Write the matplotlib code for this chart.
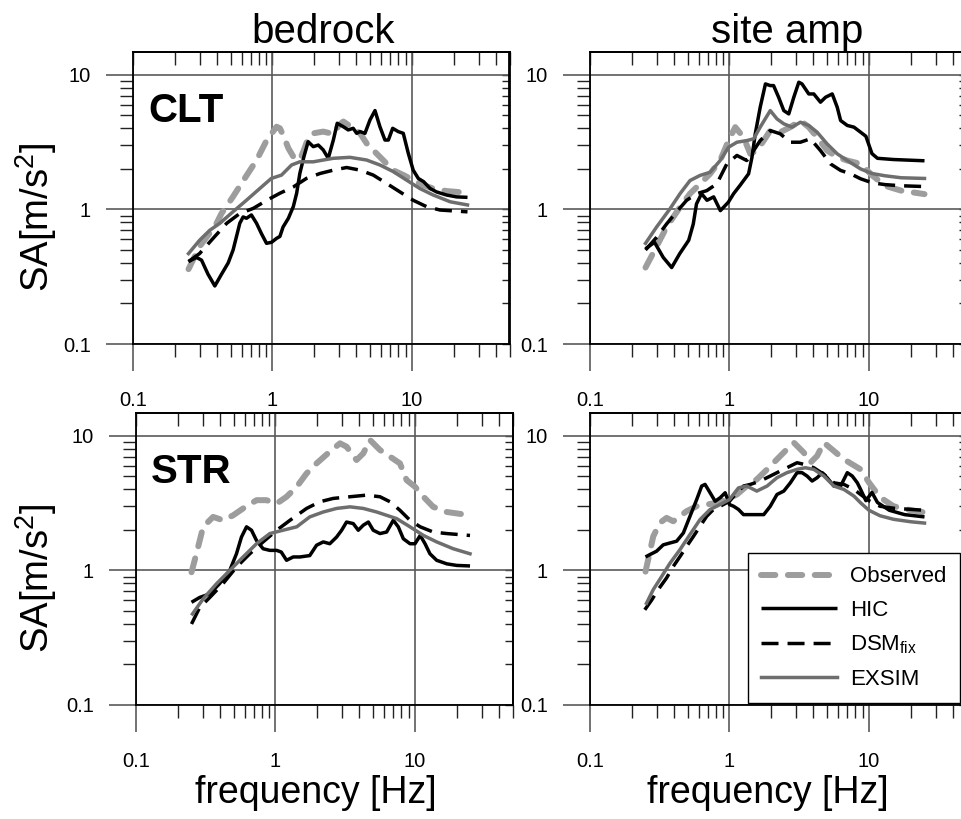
import matplotlib
matplotlib.use('Agg')
import matplotlib.pyplot as plt
from matplotlib.ticker import FixedLocator, LogLocator, NullFormatter, FixedFormatter

plt.rcParams['font.family'] = ['Liberation Sans', 'DejaVu Sans']
plt.rcParams['mathtext.fontset'] = 'custom'
plt.rcParams['mathtext.rm'] = 'Liberation Sans'
plt.rcParams['mathtext.it'] = 'Liberation Sans:italic'
plt.rcParams['mathtext.bf'] = 'Liberation Sans:bold'

# ---------------- data ----------------
series_names = ['Observed', 'HIC', r'DSM$_{\mathrm{fix}}$', 'EXSIM']
col_titles = ['bedrock', 'site amp']
row_labels = ['CLT', 'STR']
tick_vals = [0.1, 1, 10]
tick_labels = ['0.1', '1', '10']

# CLT bedrock
clt_bed_obs_f = [0.25, 0.30, 0.39, 0.43, 0.52, 0.62, 0.77, 0.91, 1.07, 1.13, 1.19, 1.30, 1.41, 1.57, 1.68, 1.80, 1.96, 2.31, 2.73, 3.0, 3.22, 3.79, 4.24, 4.73, 5.4, 6.2, 7.3, 8.7, 10.2, 12.0, 14.2, 17.7, 25.0]
clt_bed_obs_sa = [0.36, 0.53, 0.76, 0.93, 1.24, 1.65, 2.33, 3.28, 4.12, 4.01, 3.58, 2.85, 2.47, 2.33, 2.77, 3.38, 3.68, 3.79, 3.64, 4.24, 4.50, 4.01, 3.68, 3.10, 2.69, 2.33, 1.96, 1.80, 1.65, 1.52, 1.43, 1.37, 1.33]
clt_bed_hic_f = [0.25, 0.285, 0.31, 0.345, 0.386, 0.431, 0.481, 0.522, 0.552, 0.583, 0.616, 0.651, 0.706, 0.768, 0.834, 0.906, 0.984, 1.07, 1.13, 1.19, 1.30, 1.41, 1.49, 1.57, 1.68, 1.80, 1.96, 2.13, 2.31, 2.51, 2.73, 2.91, 3.22, 3.49, 3.79, 4.01, 4.24, 4.60, 5.00, 5.43, 5.89, 6.40, 6.77, 7.27, 7.97, 8.66, 9.41, 10.2, 11.1, 12.1, 13.5, 15.0, 17.7, 20.9, 25.0]
clt_bed_hic_sa = [0.41, 0.44, 0.42, 0.33, 0.27, 0.33, 0.40, 0.50, 0.63, 0.79, 0.88, 0.86, 0.91, 0.79, 0.66, 0.56, 0.57, 0.61, 0.63, 0.74, 0.86, 1.05, 1.32, 1.85, 2.47, 3.19, 2.93, 3.01, 2.77, 2.40, 3.28, 4.37, 4.12, 3.90, 4.01, 3.68, 3.79, 3.68, 4.63, 5.43, 4.12, 3.28, 3.28, 4.01, 3.79, 3.68, 2.61, 1.96, 1.70, 1.61, 1.43, 1.35, 1.28, 1.24, 1.23]
clt_bed_dsm_f = [0.25, 0.30, 0.375, 0.47, 0.58, 0.73, 0.91, 1.13, 1.41, 1.75, 2.19, 2.73, 3.40, 4.24, 5.28, 6.58, 8.2, 10.2, 12.7, 15.9, 25.0]
clt_bed_dsm_sa = [0.41, 0.47, 0.61, 0.79, 0.93, 1.02, 1.17, 1.32, 1.47, 1.70, 1.85, 1.96, 2.05, 1.96, 1.80, 1.56, 1.35, 1.17, 1.05, 0.99, 0.96]
clt_bed_exs_f = [0.25, 0.30, 0.355, 0.42, 0.52, 0.65, 0.81, 0.98, 1.16, 1.37, 1.57, 1.96, 2.31, 2.73, 3.59, 4.73, 5.89, 7.35, 9.16, 11.4, 14.2, 18.8, 25.0]
clt_bed_exs_sa = [0.47, 0.59, 0.70, 0.79, 0.96, 1.17, 1.43, 1.70, 1.80, 2.14, 2.26, 2.26, 2.33, 2.40, 2.44, 2.33, 2.14, 1.91, 1.65, 1.43, 1.28, 1.14, 1.08]

# CLT site amp
clt_amp_obs_f = [0.25, 0.30, 0.354, 0.442, 0.521, 0.615, 0.726, 0.857, 0.984, 1.10, 1.26, 1.41, 1.57, 1.76, 1.96, 2.31, 2.73, 3.22, 3.70, 4.25, 5.01, 5.92, 6.99, 8.71, 10.5, 13.0, 17.0, 25.0]
clt_amp_obs_sa = [0.37, 0.53, 0.74, 1.04, 1.31, 1.55, 1.84, 2.31, 3.25, 4.09, 3.44, 2.59, 2.74, 3.25, 3.86, 3.75, 4.09, 4.58, 4.09, 3.44, 2.74, 2.45, 2.31, 2.18, 1.80, 1.50, 1.38, 1.30]
clt_amp_hic_f = [0.25, 0.29, 0.335, 0.385, 0.44, 0.51, 0.55, 0.58, 0.63, 0.69, 0.77, 0.86, 0.98, 1.07, 1.19, 1.37, 1.45, 1.53, 1.66, 1.81, 1.96, 2.07, 2.25, 2.45, 2.66, 2.89, 3.14, 3.31, 3.70, 4.02, 4.49, 4.88, 5.45, 5.92, 6.26, 6.99, 7.80, 8.71, 9.5, 10.5, 11.5, 15.0, 25.0]
clt_amp_hic_sa = [0.51, 0.57, 0.44, 0.37, 0.47, 0.59, 0.78, 1.10, 1.31, 1.17, 1.24, 0.98, 1.13, 1.31, 1.51, 1.84, 2.45, 3.65, 5.75, 8.57, 8.33, 8.33, 6.82, 5.43, 5.13, 6.82, 8.82, 8.57, 7.22, 7.22, 6.27, 6.82, 7.22, 5.75, 4.58, 4.21, 4.09, 3.75, 3.50, 2.60, 2.40, 2.35, 2.30]
clt_amp_dsm_f = [0.25, 0.30, 0.354, 0.418, 0.493, 0.582, 0.687, 0.811, 0.957, 1.13, 1.33, 1.49, 1.66, 1.96, 2.31, 2.73, 3.22, 3.80, 4.49, 5.30, 6.26, 7.38, 8.71, 10.5, 13.0, 17.0, 25.0]
clt_amp_dsm_sa = [0.50, 0.62, 0.78, 0.96, 1.17, 1.31, 1.38, 1.55, 2.18, 2.52, 2.31, 2.74, 3.25, 3.86, 3.65, 3.16, 3.16, 3.35, 2.74, 2.18, 1.95, 1.84, 1.69, 1.58, 1.53, 1.50, 1.48]
clt_amp_exs_f = [0.25, 0.30, 0.374, 0.442, 0.521, 0.615, 0.726, 0.857, 0.984, 1.13, 1.33, 1.49, 1.66, 1.96, 2.19, 2.45, 2.81, 3.22, 3.70, 4.25, 5.01, 5.92, 6.99, 8.71, 10.5, 13.0, 17.0, 25.0]
clt_amp_exs_sa = [0.56, 0.74, 1.01, 1.31, 1.64, 1.79, 1.89, 2.31, 2.90, 3.16, 3.25, 3.35, 4.09, 5.43, 4.71, 4.33, 4.09, 4.45, 4.21, 3.75, 3.07, 2.59, 2.31, 2.00, 1.85, 1.78, 1.72, 1.70]

# STR bedrock
str_bed_obs_f = [0.25, 0.271, 0.303, 0.357, 0.421, 0.497, 0.586, 0.731, 0.861, 1.02, 1.20, 1.42, 1.67, 1.97, 2.45, 2.90, 3.23, 3.81, 4.26, 4.75, 5.61, 6.62, 7.80, 8.71, 10.0, 11.5, 13.5, 16.9, 24.8]
str_bed_obs_sa = [0.97, 1.33, 2.11, 2.50, 2.36, 2.57, 2.89, 3.33, 3.33, 3.14, 3.53, 4.19, 5.26, 6.25, 7.64, 8.81, 8.32, 6.62, 7.42, 9.34, 7.86, 7.01, 6.25, 4.69, 4.19, 3.53, 2.97, 2.72, 2.57]
str_bed_hic_f = [0.25, 0.286, 0.338, 0.398, 0.470, 0.525, 0.570, 0.620, 0.673, 0.731, 0.815, 0.911, 1.02, 1.10, 1.20, 1.34, 1.50, 1.76, 1.97, 2.20, 2.45, 2.74, 2.98, 3.23, 3.61, 3.92, 4.26, 4.63, 5.02, 5.61, 6.26, 6.99, 7.59, 8.25, 9.21, 10.0, 10.9, 11.8, 12.8, 14.3, 16.9, 19.9, 24.8]
str_bed_hic_sa = [0.58, 0.63, 0.67, 0.80, 1.00, 1.33, 1.77, 2.11, 1.99, 1.67, 1.45, 1.41, 1.41, 1.37, 1.19, 1.26, 1.26, 1.29, 1.54, 1.63, 1.58, 1.77, 1.99, 2.29, 2.23, 1.99, 2.17, 2.29, 1.99, 1.88, 1.93, 2.36, 2.11, 1.72, 1.58, 1.58, 1.82, 1.58, 1.33, 1.19, 1.12, 1.09, 1.08]
str_bed_dsm_f = [0.25, 0.286, 0.338, 0.421, 0.525, 0.654, 0.815, 1.02, 1.27, 1.67, 2.08, 2.59, 3.42, 4.50, 5.61, 6.62, 7.80, 9.21, 10.9, 13.5, 16.9, 24.8]
str_bed_dsm_sa = [0.40, 0.53, 0.63, 0.80, 1.06, 1.33, 1.63, 1.99, 2.36, 2.89, 3.24, 3.43, 3.53, 3.63, 3.53, 3.24, 2.80, 2.36, 2.11, 1.93, 1.88, 1.82]
str_bed_exs_f = [0.254, 0.303, 0.377, 0.470, 0.586, 0.731, 0.911, 1.13, 1.42, 1.76, 2.20, 2.74, 3.42, 4.26, 5.31, 6.26, 7.38, 9.21, 11.5, 14.3, 18.8, 24.8]
str_bed_exs_sa = [0.475, 0.615, 0.795, 1.00, 1.26, 1.58, 1.88, 1.99, 2.11, 2.50, 2.72, 2.89, 2.97, 2.89, 2.72, 2.57, 2.43, 2.11, 1.82, 1.63, 1.45, 1.33]

# STR site amp
str_amp_obs_f = [0.25, 0.261, 0.284, 0.317, 0.354, 0.395, 0.442, 0.493, 0.582, 0.687, 0.811, 0.957, 1.13, 1.33, 1.57, 1.86, 2.19, 2.51, 2.89, 3.41, 3.80, 4.25, 4.75, 5.60, 6.61, 8.71, 10.0, 12.0, 15.0, 20.0, 25.0]
str_amp_obs_sa = [0.98, 1.20, 1.79, 2.26, 2.46, 2.32, 2.53, 2.76, 3.00, 3.09, 3.18, 3.37, 3.67, 4.24, 4.75, 5.64, 6.70, 7.73, 8.92, 7.51, 6.32, 7.10, 8.92, 7.73, 6.70, 5.64, 4.50, 3.50, 3.00, 2.80, 2.70]
str_amp_hic_f = [0.25, 0.268, 0.30, 0.335, 0.374, 0.418, 0.467, 0.521, 0.582, 0.632, 0.668, 0.726, 0.789, 0.857, 0.931, 1.0, 1.07, 1.16, 1.26, 1.37, 1.57, 1.76, 1.96, 2.19, 2.45, 2.73, 3.05, 3.31, 3.60, 3.91, 4.25, 4.62, 5.01, 5.60, 6.26, 6.99, 7.59, 8.25, 8.71, 9.5, 10.5, 11.5, 14.0, 18.0, 25.0]
str_amp_hic_sa = [1.26, 1.31, 1.39, 1.55, 1.60, 1.65, 1.90, 2.53, 3.37, 4.24, 4.36, 3.78, 3.27, 3.47, 3.78, 3.09, 3.00, 2.84, 2.60, 2.60, 2.60, 2.60, 3.00, 3.67, 3.89, 4.48, 5.33, 5.33, 5.03, 4.62, 4.89, 5.33, 4.89, 4.24, 4.24, 5.33, 5.03, 4.48, 4.00, 3.30, 3.80, 3.20, 2.80, 2.60, 2.50]
str_amp_dsm_f = [0.247, 0.276, 0.308, 0.354, 0.395, 0.442, 0.493, 0.551, 0.615, 0.687, 0.767, 0.857, 1.0, 1.13, 1.26, 1.41, 1.66, 1.96, 2.31, 2.73, 3.05, 3.41, 4.02, 4.75, 5.60, 6.61, 7.80, 8.71, 10.0, 12.0, 15.0, 25.0]
str_amp_dsm_sa = [0.51, 0.60, 0.72, 0.88, 1.07, 1.27, 1.51, 1.79, 2.13, 2.53, 2.84, 3.00, 3.27, 3.78, 4.24, 4.36, 4.62, 5.03, 5.48, 5.97, 6.32, 6.15, 5.80, 5.18, 4.48, 4.36, 4.00, 3.67, 3.30, 3.00, 2.90, 2.80]
str_amp_exs_f = [0.254, 0.284, 0.326, 0.374, 0.442, 0.521, 0.615, 0.726, 0.857, 1.0, 1.16, 1.33, 1.57, 1.86, 2.19, 2.58, 3.05, 3.50, 4.02, 4.75, 5.60, 6.61, 7.80, 8.71, 10.0, 12.0, 15.0, 20.0, 25.0]
str_amp_exs_sa = [0.57, 0.72, 0.90, 1.13, 1.43, 1.85, 2.39, 2.84, 3.09, 3.37, 4.11, 4.24, 3.89, 4.24, 4.89, 5.33, 5.64, 5.80, 5.64, 5.03, 4.24, 4.00, 3.57, 3.18, 2.80, 2.55, 2.40, 2.30, 2.25]

panels = [
    [[(clt_bed_obs_f, clt_bed_obs_sa), (clt_bed_hic_f, clt_bed_hic_sa), (clt_bed_dsm_f, clt_bed_dsm_sa), (clt_bed_exs_f, clt_bed_exs_sa)],
     [(clt_amp_obs_f, clt_amp_obs_sa), (clt_amp_hic_f, clt_amp_hic_sa), (clt_amp_dsm_f, clt_amp_dsm_sa), (clt_amp_exs_f, clt_amp_exs_sa)]],
    [[(str_bed_obs_f, str_bed_obs_sa), (str_bed_hic_f, str_bed_hic_sa), (str_bed_dsm_f, str_bed_dsm_sa), (str_bed_exs_f, str_bed_exs_sa)],
     [(str_amp_obs_f, str_amp_obs_sa), (str_amp_hic_f, str_amp_hic_sa), (str_amp_dsm_f, str_amp_dsm_sa), (str_amp_exs_f, str_amp_exs_sa)]],
]

# ---------------- styles ----------------
GRID = '#5a5a5a'
styles = [
    dict(color='#9d9d9d', lw=4.3, dashes=(2.4, 2.1), dash_capstyle='round', solid_joinstyle='round'),
    dict(color='black', lw=2.5, solid_joinstyle='round', solid_capstyle='butt'),
    dict(color='black', lw=2.5, dashes=(4.9, 2.6), dash_capstyle='butt', dash_joinstyle='round'),
    dict(color='#6e6e6e', lw=2.5, solid_joinstyle='round'),
]

W, H = 962, 819
fig = plt.figure(figsize=(W / 100, H / 100), dpi=100)

def px_axes(left, right, top, bottom):
    return fig.add_axes([left / W, 1 - bottom / H, (right - left) / W, (bottom - top) / H])

boxes = [[(133, 509.5, 52, 344), (590, 966.5, 52, 344)],
         [(136, 512.5, 413, 705), (590, 966.5, 413, 705)]]

axes = [[None, None], [None, None]]
for r in range(2):
    for c in range(2):
        ax = px_axes(*boxes[r][c])
        axes[r][c] = ax
        ax.set_xscale('log')
        ax.set_yscale('log')
        ax.set_xlim(0.1, 50)
        ax.set_ylim(0.1, 14.8)
        for axis in (ax.xaxis, ax.yaxis):
            axis.set_major_locator(FixedLocator(tick_vals))
            axis.set_major_formatter(FixedFormatter(tick_labels))
            axis.set_minor_locator(LogLocator(base=10, subs=range(2, 10)))
            axis.set_minor_formatter(NullFormatter())
        ax.grid(True, which='major', color=GRID, lw=1.2, zorder=1)
        ax.tick_params(which='major', direction='out', length=19.5, width=1.2,
                       color=GRID, labelsize=14.5)
        ax.tick_params(axis='x', which='major', pad=14)
        ax.tick_params(axis='y', which='major', pad=11)
        ax.tick_params(which='minor', direction='out', length=9.7, width=1.0, color='#222222')
        for s in ax.spines.values():
            s.set_color('black')
            s.set_linewidth(1.3)
        sx = ax.secondary_xaxis('top')
        sx.xaxis.set_major_locator(FixedLocator(tick_vals))
        sx.xaxis.set_minor_locator(LogLocator(base=10, subs=range(2, 10)))
        sx.xaxis.set_major_formatter(NullFormatter())
        sx.xaxis.set_minor_formatter(NullFormatter())
        sx.tick_params(which='both', direction='in', length=9.5, width=1.0, color='#222222')
        sx.spines['top'].set_linewidth(1.3)
        sy = ax.secondary_yaxis('right')
        sy.yaxis.set_major_locator(FixedLocator(tick_vals))
        sy.yaxis.set_minor_locator(LogLocator(base=10, subs=range(2, 10)))
        sy.yaxis.set_major_formatter(NullFormatter())
        sy.yaxis.set_minor_formatter(NullFormatter())
        sy.tick_params(which='both', direction='in', length=6, width=1.0, color='#222222')
        sy.spines['right'].set_linewidth(1.3)

        handles = []
        for (f, sa), st, name in zip(panels[r][c], styles, series_names):
            ln, = ax.plot(f, sa, label=name, zorder=3, **st)
            handles.append(ln)

        if c == 0:
            ax.text(0.04, 0.76, row_labels[r], transform=ax.transAxes, fontsize=29,
                    fontweight='bold', ha='left', va='baseline', zorder=5)

# titles and labels
fig.text(323 / W, 1 - 43 / H, col_titles[0], ha='center', va='baseline', fontsize=29)
fig.text(787 / W, 1 - 43 / H, col_titles[1], ha='center', va='baseline', fontsize=29)
fig.text(316 / W, 1 - 803 / H, 'frequency [Hz]', ha='center', va='baseline', fontsize=27)
fig.text(768 / W, 1 - 803 / H, 'frequency [Hz]', ha='center', va='baseline', fontsize=27)
fig.text(36 / W, 1 - 217 / H, r'SA[m/s$^2$]', rotation=90, ha='center', va='center', fontsize=27.5)
fig.text(36 / W, 1 - 578 / H, r'SA[m/s$^2$]', rotation=90, ha='center', va='center', fontsize=27.5)

leg = axes[1][1].legend(handles=handles, loc='upper left', bbox_to_anchor=(748 / W, 1 - 553 / H),
                        bbox_transform=fig.transFigure, borderaxespad=0, fontsize=16,
                        handlelength=3.4, handletextpad=0.6, borderpad=0.6, labelspacing=0.57,
                        fancybox=False, framealpha=1, edgecolor='black')
leg.get_frame().set_linewidth(1.0)
leg.set_zorder(10)

fig.savefig('out.png', dpi=100)
